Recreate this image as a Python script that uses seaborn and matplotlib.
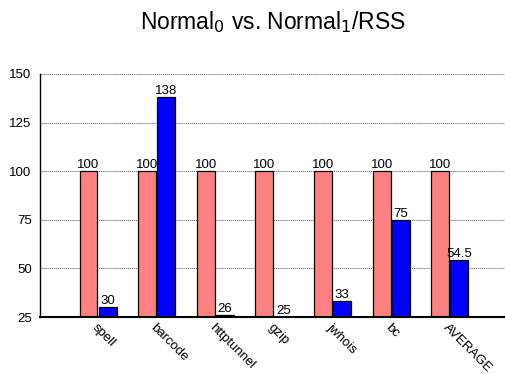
import matplotlib
matplotlib.use("Agg")
import matplotlib.pyplot as plt
import seaborn as sns
import pandas as pd

benchmarks = ["spell", "barcode", "httptunnel", "gzip", "jwhois", "bc", "AVERAGE"]
normal0 = [100, 100, 100, 100, 100, 100, 100]
normal1_rss = [30, 138, 26, 25, 33, 75, 54.5]
series_names = ["Normal0", "Normal1/RSS"]
yticks = [25, 50, 75, 100, 125, 150]

df = pd.DataFrame({
    "benchmark": benchmarks * 2,
    "value": normal0 + normal1_rss,
    "series": [series_names[0]] * len(benchmarks) + [series_names[1]] * len(benchmarks),
})

sns.set_style("white")
plt.rcParams["font.family"] = ["Liberation Sans", "DejaVu Sans"]
plt.rcParams.update({"text.color": "black", "xtick.color": "black",
                     "ytick.color": "black", "axes.labelcolor": "black"})

fig = plt.figure(figsize=(5.06, 3.74), dpi=100)
ax = fig.add_axes([40 / 506, 1 - 317 / 374, 1 - 40 / 506, (317 - 74) / 374])

sns.barplot(data=df, x="benchmark", y="value", hue="series", order=benchmarks,
            hue_order=series_names, palette=["#ff8080", "#0000ff"],
            width=0.65, gap=0.06, edgecolor="black", linewidth=0.9,
            saturation=1, legend=False, ax=ax)

for cont in ax.containers:
    ax.bar_label(cont, labels=[f"{v:g}" for v in cont.datavalues], padding=0,
                 fontsize=9.5, color="black")

ax.set_ylim(25, 150)
ax.set_xlim(-0.99, 6.96)
ax.set_yticks(yticks)
ax.tick_params(axis="y", direction="in", length=3, labelsize=9.5, pad=6)
ax.tick_params(axis="x", length=0, labelsize=9.5, pad=3)
ax.set_xticks(range(len(benchmarks)))
ax.set_xticklabels(benchmarks, rotation=-45, ha="left", va="top",
                   rotation_mode="anchor")
ax.set_xlabel("")
ax.set_ylabel("")
ax.yaxis.grid(True, linestyle=(0, (1, 1)), color="#555555", linewidth=0.7)
ax.set_axisbelow(True)
for s in ["top", "right"]:
    ax.spines[s].set_visible(False)
ax.spines["left"].set_color("black")
ax.spines["left"].set_linewidth(1)
ax.spines["bottom"].set_color("black")
ax.spines["bottom"].set_linewidth(1.5)

fig.text(0.54, 1 - 22 / 374, "Normal$_0$ vs. Normal$_1$/RSS", ha="center",
         va="center", fontsize=16.5)

fig.savefig("out.png", dpi=100)
